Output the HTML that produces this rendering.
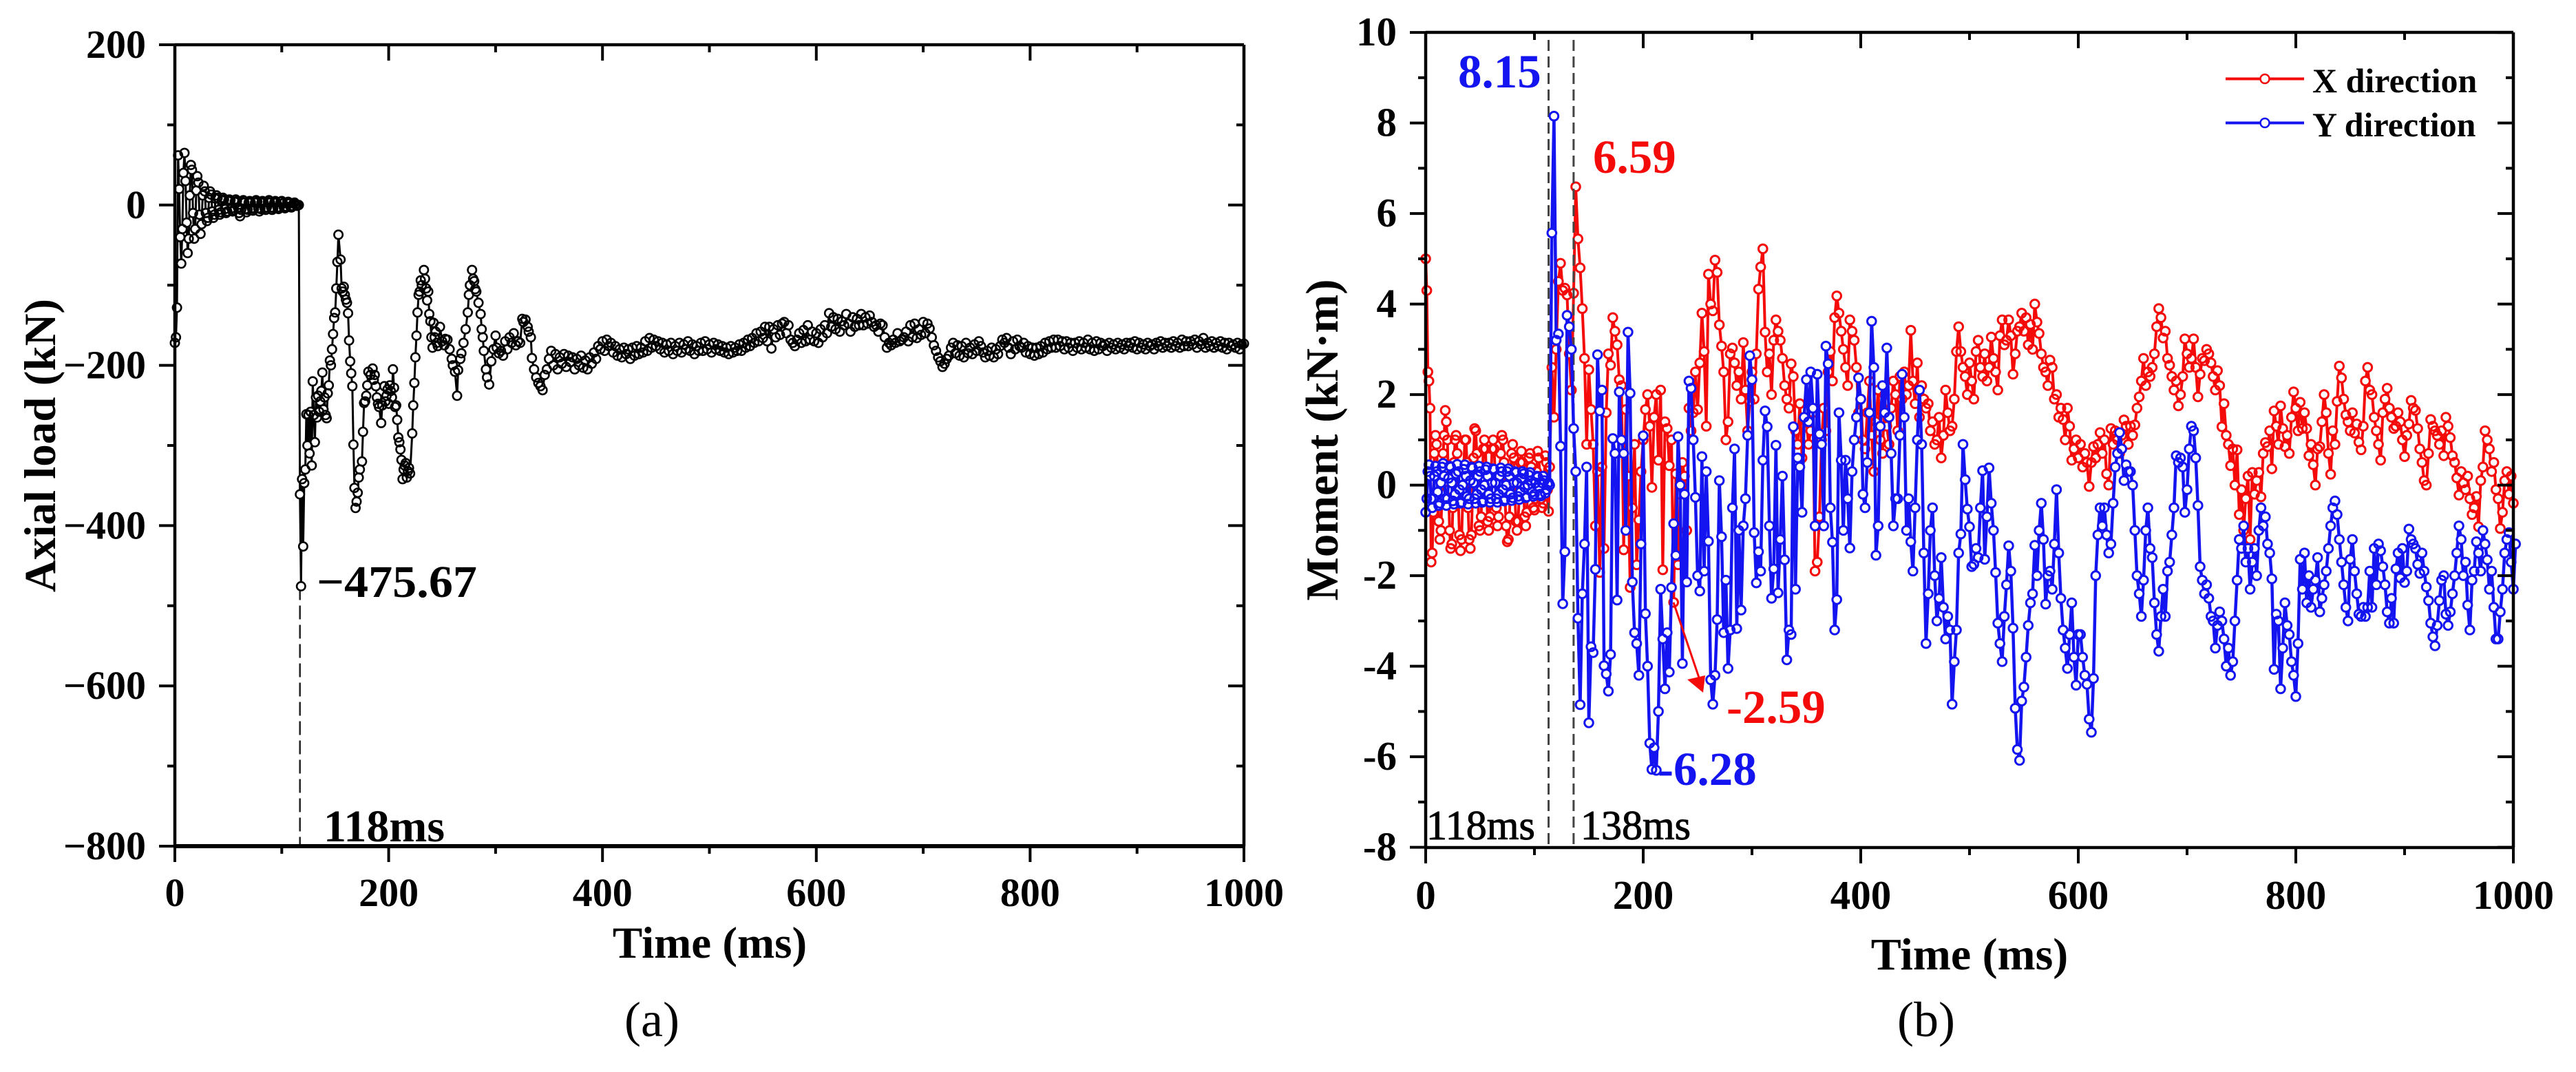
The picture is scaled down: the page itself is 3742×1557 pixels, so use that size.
<!DOCTYPE html>
<html lang="en">
<head>
<meta charset="utf-8">
<title>Axial load and moment versus time</title>
<style>
html,body{margin:0;padding:0;background:#fff}
body{width:3742px;height:1557px;overflow:hidden}
svg{display:block}
text{font-family:"Liberation Serif",serif;font-weight:bold;fill:#000}
.reg{font-weight:normal}
</style>
</head>
<body>
<svg id="figure" xmlns="http://www.w3.org/2000/svg" width="3742" height="1557" viewBox="0 0 3742 1557">
  <rect x="0" y="0" width="3742" height="1557" fill="#fff"/>
  <g id="panelA"></g>
  <g id="panelB"></g>

  <text x="1031" y="1391" font-size="65" text-anchor="middle">Time (ms)</text>
  <text transform="translate(80,647) rotate(-90)" font-size="65" text-anchor="middle">Axial load (kN)</text>
  <text x="460" y="867" font-size="66" textLength="233" lengthAdjust="spacingAndGlyphs">−475.67</text>
  <text x="470" y="1222" font-size="66">118ms</text>
  <text class="reg" x="947" y="1505" font-size="72" text-anchor="middle">(a)</text>

  <text x="2861" y="1408" font-size="66" text-anchor="middle">Time (ms)</text>
  <text transform="translate(1943,639) rotate(-90)" font-size="67" text-anchor="middle">Moment (kN·m)</text>
  <text class="reg" x="2798" y="1505" font-size="72" text-anchor="middle">(b)</text>

  <text x="2118" y="127" font-size="69" style="fill:#1414f0">8.15</text>
  <text x="2314" y="251" font-size="69" style="fill:#f50a0a">6.59</text>
  <text x="2508" y="1050" font-size="69" style="fill:#f50a0a">-2.59</text>
  <text x="2408" y="1140" font-size="69" style="fill:#1414f0">-6.28</text>
  <text x="2072" y="1219" font-size="60" style="font-weight:normal;stroke:#000;stroke-width:1">118ms</text>
  <text x="2296" y="1219" font-size="60" style="font-weight:normal;stroke:#000;stroke-width:1">138ms</text>

  <line x1="2431" y1="875" x2="2470" y2="990" stroke="#f50a0a" stroke-width="3"/>
  <polygon points="2477,981 2451,987 2474,1006" fill="#f50a0a"/>

  <g>
    <line x1="3233" y1="114.5" x2="3347" y2="114.5" stroke="#f50a0a" stroke-width="4"/>
    <circle cx="3290" cy="114.5" r="6.5" fill="#fff" stroke="#f50a0a" stroke-width="2.5"/>
    <text x="3359" y="134" font-size="50">X direction</text>
    <line x1="3233" y1="178.5" x2="3347" y2="178.5" stroke="#1414f0" stroke-width="4"/>
    <circle cx="3290" cy="178.5" r="6.5" fill="#fff" stroke="#1414f0" stroke-width="2.5"/>
    <text x="3359" y="198" font-size="50">Y direction</text>
  </g>
</svg>
<script>
// ---------- tick data ----------
const timeTicks = [0,200,400,600,800,1000];
const timeMinorTicks = [100,300,500,700,900];
const loadTicks = [200,0,-200,-400,-600,-800];
const loadMinorTicks = [100,-100,-300,-500,-700];
const momentTicks = [10,8,6,4,2,0,-2,-4,-6,-8];
const momentMinorTicks = [9,7,5,3,1,-1,-3,-5,-7];
const loadMarkerTimes = [117];
const momentMarkerTimes = [113,136];

// ---------- panel (a) axial load, kN ----------
const loadSettleStart = 0;
const loadSettleStep = 1;
const loadSettleValues = [
-172,-165,-128,62,20,-40,-73,-30,40,65,
30,-22,-60,-42,12,50,44,-10,-42,-30,
18,36,28,-12,-36,-24,12,24,17,-10,
-20,-16,9,17,13,-8,-16,-12,8,12,
9,-6,-12,-9,6,9,7,-5,-10,-8,
5,7,6,-4,-8,-6,4,7,5,-3,
-10,-14,-6,4,6,3,-5,-9,-6,3,
5,3,-4,-7,-5,3,6,4,-4,-8,
-5,3,5,3,-4,-6,-3,4,6,3,
-3,-6,-4,3,5,3,-3,-5,-3,4,
5,2,-3,-4,-2,3,4,2,-2,-3,
-1,2,3,1,-1,0];
const loadImpactTimes = [
116,117,118,119,120,121,122,123,124,125,
126,127,128,129,130,131,132,133,134,135,
136,137,138,139,140,141,142,143,144,145,
146,147,148,149,150,151,152,153,155,156,
157,158,159,160,161,162,163,164,165,166,
167,168,169,170,171,172,173,175,176,177,
178,179,180,181,183,185,186,187,188,189,
190,191,193,194,196,197,198,199,200,201,
202,203,204,205,206,207,208,209,210,211,
212,213,214,215,216,217,218,219,220,222,
223,224,225,226,227,228,229,230,231,233,
234,235,236,237,238,239,240,241,242,243,
244,245,246,248,250,252,253,255,257,259,
260,262,264,265,267,268,270,272,274,275,
276,278,279,280,281,282,284,286,287,288,
289,291,292,294,296,298,300,301,303,305,
307,309,311,313,315,317,319,321,323,325,
326,328,330,331,333,334,336,338,340,342,
344,346,348,350];
const loadImpactValues = [
0,-361,-475.67,-342,-426,-347,-330,-261,-300,-262,
-310,-258,-325,-220,-262,-296,-240,-265,-238,-258,
-245,-232,-209,-255,-240,-262,-266,-235,-225,-194,
-200,-180,-161,-141,-134,-104,-71,-37,-68,-104,
-108,-102,-112,-118,-122,-135,-169,-195,-210,-226,
-299,-353,-378,-370,-359,-340,-330,-320,-283,-247,
-245,-238,-225,-208,-212,-204,-218,-212,-226,-240,
-248,-252,-272,-250,-226,-245,-238,-230,-248,-225,
-232,-240,-205,-228,-252,-250,-268,-290,-296,-305,
-318,-342,-330,-325,-322,-340,-332,-328,-335,-285,
-250,-222,-190,-163,-134,-112,-108,-94,-100,-81,
-92,-104,-119,-108,-136,-145,-165,-178,-147,-165,
-158,-172,-176,-152,-170,-175,-167,-168,-180,-192,
-200,-208,-238,-206,-192,-185,-172,-155,-134,-112,
-100,-81,-92,-95,-105,-108,-122,-136,-155,-165,
-182,-205,-215,-224,-195,-180,-163,-178,-185,-182,
-188,-170,-180,-165,-172,-160,-175,-170,-172,-142,
-146,-143,-152,-158,-165,-191,-205,-215,-222,-226,
-231,-212,-205,-192];
const loadLateStart = 352;
const loadLateStep = 2;
const loadLateValues = [
-182,-200,-186,-205,-190,-198,-186,-202,-188,-196,
-190,-205,-192,-200,-188,-203,-194,-205,-190,-198,
-184,-192,-176,-180,-170,-182,-168,-176,-172,-184,
-176,-188,-180,-190,-178,-186,-180,-192,-178,-188,
-176,-186,-178,-184,-170,-182,-166,-178,-168,-176,
-170,-180,-172,-184,-174,-182,-172,-186,-176,-182,
-172,-184,-174,-180,-170,-182,-174,-186,-176,-182,
-172,-182,-170,-180,-174,-184,-172,-180,-174,-182,
-176,-184,-178,-186,-176,-184,-178,-182,-174,-182,
-172,-178,-168,-176,-166,-172,-160,-170,-158,-166,
-152,-170,-152,-179,-155,-165,-150,-162,-148,-146,
-160,-150,-168,-172,-176,-168,-160,-172,-156,-170,
-150,-168,-158,-170,-160,-172,-155,-165,-150,-160,
-135,-152,-140,-155,-142,-158,-145,-150,-136,-148,
-158,-140,-152,-142,-150,-136,-150,-140,-148,-138,
-146,-152,-150,-158,-148,-150,-165,-178,-172,-175,
-168,-172,-160,-170,-168,-165,-158,-170,-150,-165,
-148,-166,-155,-162,-146,-160,-148,-154,-165,-175,
-182,-190,-195,-202,-198,-192,-188,-178,-172,-185,
-175,-188,-176,-190,-172,-185,-178,-186,-174,-182,
-170,-176,-184,-190,-182,-188,-178,-190,-180,-186,
-176,-168,-172,-166,-178,-186,-170,-180,-168,-176,
-178,-172,-184,-176,-186,-178,-188,-178,-186,-176,
-184,-172,-180,-170,-178,-168,-178,-168,-176,-170,
-180,-170,-178,-172,-182,-172,-178,-170,-180,-172,
-178,-168,-180,-172,-182,-170,-180,-172,-176,-174,
-182,-172,-178,-174,-180,-172,-178,-174,-180,-172,
-176,-172,-178,-170,-180,-172,-178,-174,-180,-172,
-176,-174,-180,-172,-176,-170,-178,-172,-176,-172,
-178,-170,-176,-172,-178,-168,-176,-170,-176,-170,
-174,-168,-178,-170,-174,-166,-178,-172,-176,-170,
-178,-172,-176,-170,-178,-172,-180,-172,-176,-174,
-178,-172,-180,-174,-173];

// ---------- panel (b) moment, kN·m ----------
const momentEarlyStart = 0;
const momentEarlyStep = 1;
const momentLateStart = 114;
const momentLateStep = 2;
const momentXEarly = [
5.0,4.3,2.5,2.3,1.7,-1.7,-1.5,-0.6,0.7,1.1,
0.9,0.2,-0.8,-1.2,-1.0,-0.2,0.7,1.1,1.65,1.4,
1.0,-0.1,-1.0,-1.4,-1.3,-0.5,0.5,1.0,1.1,0.7,
-0.3,-1.1,-1.45,-1.2,-0.4,0.4,1.0,1.0,0.5,-0.5,
-1.2,-1.4,-1.1,-0.3,0.6,1.25,1.2,0.7,-0.2,-0.9,
-1.0,-0.7,0.1,0.8,1.0,0.8,-0.1,-0.8,-1.0,-0.7,
0.1,0.8,1.0,0.8,0.2,-0.5,-0.9,-0.7,0.0,0.7,
1.1,1.0,0.5,-0.3,-0.9,-1.25,-1.2,-0.7,0.1,0.7,
0.9,0.6,-0.2,-0.8,-1.0,-0.8,-0.2,0.5,0.75,0.5,
-0.1,-0.7,-0.9,-0.6,0.1,0.6,0.7,0.4,-0.2,-0.5,
-0.55,-0.3,0.3,0.75,0.6,0.2,-0.3,-0.5,-0.4,0.2,
0.65,0.5,-0.1,-0.58];
const momentYEarly = [
-0.6,-0.3,0.3,0.45,0.2,-0.3,-0.5,-0.3,0.2,0.42,
0.3,-0.15,-0.45,-0.4,0.05,0.4,0.48,0.2,-0.3,-0.45,
-0.3,0.15,0.42,0.4,0.05,-0.35,-0.42,-0.2,0.25,0.46,
0.3,-0.1,-0.4,-0.38,0,0.35,0.45,0.2,-0.25,-0.42,
-0.3,0.1,0.4,0.38,0.05,-0.3,-0.4,-0.2,0.2,0.42,
0.3,-0.1,-0.38,-0.35,0,0.34,0.4,0.2,-0.2,-0.38,
-0.3,0.05,0.36,0.35,0.05,-0.3,-0.38,-0.2,0.2,0.38,
0.3,-0.1,-0.35,-0.32,0,0.3,0.36,0.2,-0.2,-0.34,
-0.28,0.05,0.3,0.28,0.05,-0.25,-0.32,-0.15,0.15,0.3,
0.25,-0.05,-0.28,-0.26,0,0.22,0.28,0.1,-0.15,-0.25,
-0.2,0.05,0.2,0.18,-0.05,-0.2,-0.24,0.05,0.2,0.1,
-0.18,-0.1,0.02,0.05];
const momentXLate = [
0.4,2.6,1.5,3.0,4.5,4.9,4.3,4.35,4.2,2.9,2.1,4.24,6.59,5.44,4.8,3.9,2.8,0.9,2.55,
1.67,0.9,-0.9,0.3,-1.93,0.4,-1.4,1.6,2.9,2.65,3.7,3.4,3.1,2.33,2.2,-1.43,1.67,0.2,-2.26,-0.5,
0.9,-1.76,-0.77,0.3,1.0,1.67,2.0,1.3,-0.05,1.5,2.0,0.55,2.1,-1.87,1.4,1.25,0.43,1.0,-2.59,0.25,
-1.76,-0.2,0.5,0.2,-1.0,1.7,1.2,1.6,2.5,1.67,2.7,3.8,2.95,1.3,4.66,4.0,3.85,4.97,4.7,3.54,
3.07,2.5,1.0,1.4,2.9,3.03,2.7,2.2,2.5,1.9,3.15,2.1,1.2,1.85,2.5,1.9,2.9,4.33,4.82,5.22,
3.38,2.5,2.9,2.0,3.2,3.65,3.4,3.2,2.8,2.2,1.9,1.7,2.68,2.4,1.2,0.9,1.8,0.6,1.5,1.4,
0.9,1.2,1.6,-1.9,-1.7,-0.7,1.0,1.7,1.2,2.5,2.95,2.3,3.7,4.18,3.8,3.4,3.0,2.6,2.2,3.65,
3.4,3.2,2.6,1.6,1.9,1.0,0.8,1.6,2.3,1.1,0.3,1.4,2.1,1.0,0.7,2.0,1.3,0.9,1.7,2.3,
2.0,1.2,2.4,1.9,2.5,2.0,2.2,3.42,2.3,1.8,2.7,1.5,2.2,1.9,1.7,1.8,1.2,1.4,0.9,1.0,
1.5,0.6,1.1,2.1,1.6,1.2,1.3,1.9,2.95,3.5,2.95,2.6,2.4,2.0,2.7,2.3,1.9,2.95,3.2,2.6,
2.4,2.9,2.3,2.6,3.27,2.8,2.5,2.1,3.3,3.65,3.1,3.2,3.65,3.3,2.45,2.9,3.4,3.5,3.8,3.4,
3.7,3.1,3.55,3.0,4.0,3.6,3.35,2.9,2.6,2.5,2.2,2.76,2.6,1.9,2.0,1.5,1.7,1.45,1.0,1.7,
1.3,0.55,0.8,1.0,0.6,0.9,0.4,0.7,0.5,-0.03,0.5,0.85,0.6,0.9,1.16,0.7,1.0,0.25,0.0,1.25,
0.9,1.2,1.0,0.7,1.1,1.44,1.3,0.9,1.3,1.1,1.33,1.7,1.95,2.3,2.8,2.2,2.5,2.4,2.6,2.9,
3.5,3.9,3.7,3.25,3.4,2.8,2.65,2.4,2.1,2.3,1.75,2.0,2.4,3.23,2.9,2.6,2.8,3.23,2.6,1.95,
2.45,2.8,2.75,3.0,2.9,2.7,2.4,2.1,2.53,2.2,1.29,1.8,1.1,0.9,0.43,0.8,0.0,0.78,-0.65,-0.1,
-1.0,-0.3,0.2,-1.2,0.28,-0.2,0.1,0.28,-0.26,0.7,0.94,0.85,1.2,0.36,1.64,1.3,0.9,1.75,1.25,0.85,
1.1,0.7,1.5,2.06,1.7,1.2,1.83,1.25,1.6,1.25,0.65,0.9,0.45,0.0,0.8,0.85,1.4,2.0,1.6,0.7,
0.24,1.2,0.9,1.85,2.63,2.37,1.9,1.55,1.4,1.2,1.6,1.15,1.35,0.95,0.78,1.3,2.3,2.6,2.1,2.0,
1.5,1.2,0.9,0.55,1.6,1.9,2.14,1.7,1.5,1.25,1.3,1.6,1.4,1.0,0.63,1.1,1.35,1.87,1.7,1.65,
1.25,0.8,0.5,0.1,0.0,0.7,1.45,1.3,1.2,1.1,0.9,1.2,0.65,1.5,1.3,1.05,0.65,0.5,0.16,-0.22,
0.3,0.05,-0.1,0.2,-0.3,-0.65,-0.5,-0.25,-0.92,0.1,0.4,1.2,1.0,0.8,0.3,0.5,-0.1,-0.3,-0.96,-0.6,
0.1,0.3,-0.2,0.2,-0.4];
const momentYLate = [
0.0,5.57,8.15,3.2,3.34,0.86,-2.62,-1.47,3.75,3.5,3.0,1.25,0.3,-2.94,-4.85,-2.4,-1.3,0.4,-5.25,-3.57,
-3.7,-1.86,2.88,1.64,2.1,-3.99,-4.17,-4.55,-3.74,1.03,0.7,-2.54,2.06,1.0,0.7,-1.0,3.38,2.03,-2.14,-3.26,
-3.5,-4.2,-1.3,1.09,-2.84,-4.0,-5.7,-6.28,-5.8,-6.3,-5.0,-2.3,-3.4,-4.5,-3.26,-4.13,-2.26,-0.85,-1.55,1.07,
0,-3.94,-0.2,-2.14,2.3,2.14,1.0,-0.27,-2.0,-2.34,0.63,-1.9,0.3,-1.24,-4.3,-4.84,-4.2,-2.97,0.1,-1.14,
-3.26,-2.1,-4.05,-3.2,-0.5,0.8,-3.17,-1.0,-2.76,-0.9,-0.3,1.1,2.86,2.33,-1.05,-2.16,-1.47,-1.9,0.55,1.64,
1.29,-0.9,-2.5,-1.85,0.88,-2.38,-1.2,0.2,-1.65,-3.86,-3.2,-3.3,1.29,-2.3,0.6,0.4,-0.6,1.5,2.33,1.4,
2.5,1.7,-0.9,2.45,1.13,0.9,-0.9,3.07,2.68,-0.5,-1.26,-3.2,-2.53,1.6,0.55,-1.0,0.55,-0.3,-1.39,0.3,
1.0,1.5,2.37,1.9,-0.2,-0.5,0.5,1.6,3.62,2.6,-1.55,-0.9,1.3,2.2,1.6,3.03,1.5,0.7,-0.9,-0.3,
-0.3,1.1,2.45,1.5,-1.0,-0.3,-1.25,-1.9,-0.5,1.0,2.1,0.9,-1.5,-3.5,-2.4,-1.0,-0.5,-2.0,-3.0,-2.5,
-1.6,-2.7,-3.4,-2.9,-3.2,-4.84,-3.9,-3.2,-1.5,-1.08,0.9,0.12,-0.53,-0.92,-1.8,-1.75,-1.4,-1.6,-0.5,0.32,
-1.64,-0.7,0.38,-0.4,-1.0,-1.93,-3.05,-3.5,-3.9,-2.9,-2.2,-1.34,-1.9,-3.16,-4.93,-5.84,-6.08,-4.77,-4.46,-3.8,
-3.1,-2.6,-2.4,-1.33,-2.0,-1.0,-0.4,-1.2,-2.63,-2.0,-1.9,-2.3,-1.3,-0.1,-1.5,-2.5,-3.2,-3.6,-4.05,-3.3,
-2.6,-3.8,-4.42,-3.3,-3.3,-3.8,-4.2,-4.4,-5.17,-5.46,-4.27,-2.0,-1.1,-0.5,-0.9,-0.5,-1.1,-1.5,-1.3,-0.4,
0.4,0.7,1.16,0.8,0.1,0.45,0.3,0.3,0.0,-1.0,-2.0,-2.4,-2.9,-2.1,-1.0,-0.5,-1.4,-1.6,-2.6,-3.3,
-3.67,-2.9,-2.3,-2.9,-1.9,-1.7,-1.1,-0.5,0.65,0.5,0.6,0.4,-0.6,-0.1,0.8,1.3,1.2,0.6,-0.45,-1.8,
-2.1,-2.4,-2.2,-2.5,-2.9,-3.0,-3.6,-3.1,-2.8,-3.0,-3.4,-4.0,-3.6,-4.2,-3.9,-3.0,-2.1,-1.2,-1.4,-0.9,
-1.7,-1.4,-2.3,-1.7,-1.4,-2.0,-1.0,-0.5,-0.9,-0.7,-1.3,-1.5,-2.07,-4.07,-2.85,-3.0,-4.5,-3.6,-2.6,-3.1,
-3.3,-3.9,-4.2,-4.67,-3.5,-1.64,-2.3,-1.5,-2.6,-2.0,-2.7,-2.3,-2.1,-1.6,-2.8,-2.5,-2.2,-1.9,-1.4,-0.9,
-0.5,-0.35,-0.65,-1.2,-1.7,-2.2,-2.7,-3.0,-1.64,-1.2,-1.9,-2.4,-2.85,-2.9,-2.7,-2.9,-2.7,-1.9,-2.7,-1.4,
-2.2,-1.3,-1.45,-1.8,-2.2,-2.8,-3.05,-2.5,-3.05,-1.85,-1.5,-2.05,-1.4,-2.15,-1.9,-0.97,-1.2,-1.3,-1.4,-1.75,
-1.95,-1.5,-1.9,-2.25,-2.55,-3.05,-3.35,-3.55,-3.1,-2.55,-2.1,-2.0,-2.85,-3.1,-2.8,-2.4,-2.0,-1.5,-0.9,-1.2,
-2.0,-1.7,-2.65,-3.2,-2.1,-1.9,-1.25,-1.5,-1.9,-1.0,-1.3,-1.65,-2.3,-1.9,-2.7,-3.4,-3.4,-2.8,-2.3,-1.5,
-1.2,-1.05,-1.7,-2.3,-1.3];

// ---------- scales ----------
const SVGNS = 'http://www.w3.org/2000/svg';
const xA = t => 254 + t * 1.553;
const yA = v => 297.8 - v * 1.164;
const xB = t => 2071 + t * 1.58;
const yB = v => 704.6 - v * 65.75;

function mk(tag, attrs, parent) {
  const el = document.createElementNS(SVGNS, tag);
  for (const k in attrs) el.setAttribute(k, attrs[k]);
  parent.appendChild(el);
  return el;
}

function drawAxes(parent, x, y, xTicks, xMinor, yTicks, yMinor, frame, fmt, xBase, yLabelX, fontSize) {
  const axis = mk('g', {}, parent);
  
  
  const L = frame.left, R = frame.right, T = frame.top, B = frame.bottom;
  const sides = [[L,T,R,T,4.5],[L,B,R,B,frame.bottomWidth],[L,T,L,B,4.5],[R,T,R,B,4.5]];
  sides.forEach(s => {
    const ln = mk('line', {x1:s[0],y1:s[1],x2:s[2],y2:s[3],stroke:'#000','stroke-width':s[4]}, axis);
    
    
  });
  const vTick = (px, len, sw) => {
    const bottomTick = mk('line', {x1:px,y1:B,x2:px,y2:B+len,stroke:'#000','stroke-width':sw}, axis);
    
    
    const topTick = mk('line', {x1:px,y1:T,x2:px,y2:T+len,stroke:'#000','stroke-width':sw}, axis);
    
    
  };
  const hTick = (py, len, sw) => {
    const leftTick = mk('line', {x1:L-len,y1:py,x2:L,y2:py,stroke:'#000','stroke-width':sw}, axis);
    
    
    const rightTick = mk('line', {x1:R-len,y1:py,x2:R,y2:py,stroke:'#000','stroke-width':sw}, axis);
    
    
  };
  xTicks.forEach(t => {
    vTick(x(t), 23, 4);
    const lab = mk('text', {x:x(t), y:xBase, 'font-size':fontSize, 'text-anchor':'middle'}, axis);
    lab.textContent = String(t);
    
    
  });
  xMinor.forEach(t => vTick(x(t), 11, 4));
  yTicks.forEach(v => {
    hTick(y(v), 23, 4);
    const lab = mk('text', {x:yLabelX, y:y(v)+19, 'font-size':fontSize, 'text-anchor':'end'}, axis);
    lab.textContent = fmt(v);
    
    
  });
  yMinor.forEach(v => hTick(y(v), 11, 4));
}

function drawGuides(parent, x, times, top, bottom, color, width, dash) {
  times.forEach(t => {
    const ln = mk('line', {x1:x(t),y1:top,x2:x(t),y2:bottom,stroke:color,'stroke-width':width,'stroke-dasharray':dash}, parent);
    
    
  });
}

function drawSeries(parent, x, y, times, values, color, lineWidth, ringWidth, radius) {
  const pts = times.map((t, i) => x(t).toFixed(1) + ',' + y(values[i]).toFixed(1)).join(' ');
  const line = mk('polyline', {points:pts, fill:'none', stroke:color, 'stroke-width':lineWidth, 'stroke-linejoin':'round'}, parent);
  
  
  // white discs hide the line inside each ring; every ring outline stays visible on top
  const discs = times.map((t, i) => 'M' + x(t).toFixed(1) + ' ' + y(values[i]).toFixed(1) + 'h0').join('');
  const under = mk('path', {d:discs, fill:'none', stroke:'#fff', 'stroke-width':radius * 2, 'stroke-linecap':'round'}, parent);
  
  
  times.forEach((t, i) => {
    const c = mk('circle', {cx:x(t).toFixed(1), cy:y(values[i]).toFixed(1), r:radius, fill:'none', stroke:color, 'stroke-width':ringWidth}, parent);
    
    
  });
}

// ---------- panel (a) ----------
const panelA = document.getElementById('panelA');
const loadTimes = loadSettleValues.map((_, i) => loadSettleStart + i * loadSettleStep)
  .concat(loadImpactTimes)
  .concat(loadLateValues.map((_, i) => loadLateStart + i * loadLateStep));
const loadValues = loadSettleValues.concat(loadImpactValues).concat(loadLateValues);
drawGuides(panelA, xA, loadMarkerTimes, yA(-475.67), 1229, '#222', 2.5, '20 8');
drawSeries(panelA, xA, yA, loadTimes, loadValues, '#000', 3, 2.6, 6.2);
drawAxes(panelA, xA, yA, timeTicks, timeMinorTicks, loadTicks, loadMinorTicks,
  {left:254, right:1807, top:65, bottom:1229, bottomWidth:6},
  v => String(v).replace('-', '\u2212'), 1316, 212, 58);

// ---------- panel (b) ----------
const panelB = document.getElementById('panelB');
const joinTimes = (early, late) => early.map((_, i) => momentEarlyStart + i * momentEarlyStep)
  .concat(late.map((_, i) => momentLateStart + i * momentLateStep));
const momentTimesX = joinTimes(momentXEarly, momentXLate);
const momentTimesY = joinTimes(momentYEarly, momentYLate);
const momentX = momentXEarly.concat(momentXLate);
const momentY = momentYEarly.concat(momentYLate);
drawSeries(panelB, xB, yB, momentTimesX, momentX, '#f50a0a', 4, 3, 6.3);
drawGuides(panelB, xB, momentMarkerTimes, 58, 1231, '#444', 3, '16 8');
drawSeries(panelB, xB, yB, momentTimesY, momentY, '#1414f0', 4.5, 3, 6.3);
drawAxes(panelB, xB, yB, timeTicks, timeMinorTicks, momentTicks, momentMinorTicks,
  {left:2071, right:3651, top:47, bottom:1231, bottomWidth:4.5},
  v => String(v), 1320, 2029, 59);
</script>
</body>
</html>
